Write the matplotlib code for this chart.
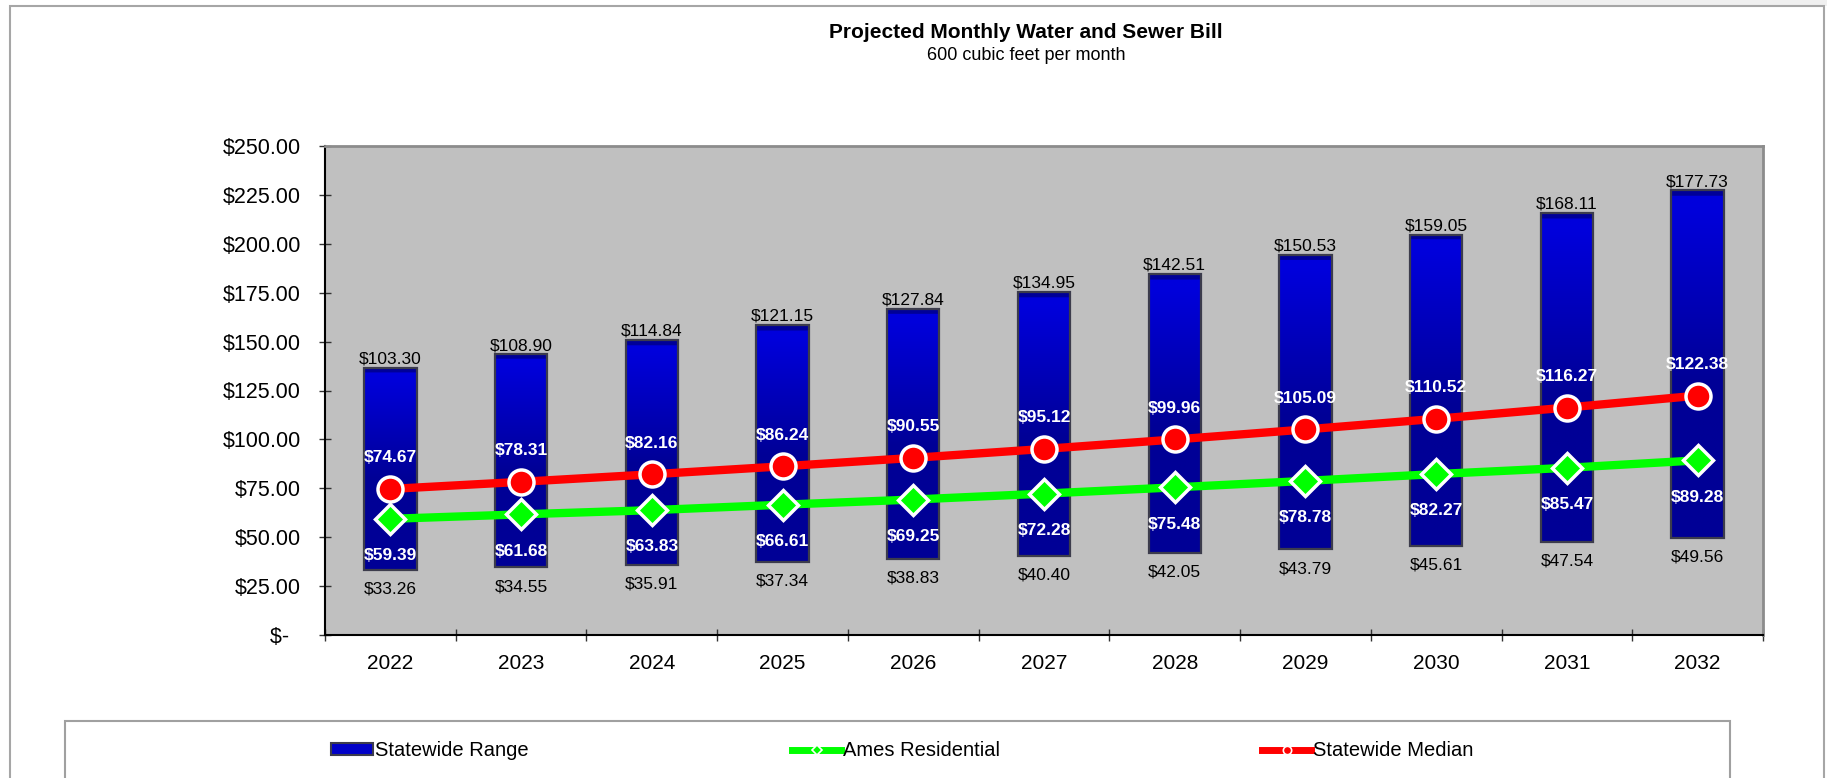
import numpy as np
import matplotlib
matplotlib.use('Agg')
import matplotlib.pyplot as plt
from matplotlib.patches import Rectangle, Patch
from matplotlib.lines import Line2D
from matplotlib.ticker import FuncFormatter

plt.rcParams['font.family'] = ['Liberation Sans', 'DejaVu Sans']

years = ['2022', '2023', '2024', '2025', '2026', '2027', '2028', '2029', '2030', '2031', '2032']
range_low = [33.26, 34.55, 35.91, 37.34, 38.83, 40.40, 42.05, 43.79, 45.61, 47.54, 49.56]
range_size = [103.30, 108.90, 114.84, 121.15, 127.84, 134.95, 142.51, 150.53, 159.05, 168.11, 177.73]
median = [74.67, 78.31, 82.16, 86.24, 90.55, 95.12, 99.96, 105.09, 110.52, 116.27, 122.38]
ames = [59.39, 61.68, 63.83, 66.61, 69.25, 72.28, 75.48, 78.78, 82.27, 85.47, 89.28]

W, H = 1827, 778
fig = plt.figure(figsize=(W / 100, H / 100), dpi=100)

# outer chart border
fig.add_artist(Rectangle((1530 / W, 1 - 6 / H), 1, 1, transform=fig.transFigure,
                         facecolor='#f0f0f0', edgecolor='none'))
fig.add_artist(Rectangle((10 / W, -0.1), (1824 - 10) / W, 1.1 - 6 / H, transform=fig.transFigure,
                         fill=False, edgecolor='#a6a6a6', linewidth=1.5))

ax = fig.add_axes([325 / W, 1 - 635 / H, (1763 - 325) / W, 489 / H])
ax.set_facecolor('#C0C0C0')

x = np.arange(len(years))
bw = 0.4
bars = ax.bar(x, range_size, bottom=range_low, width=bw, color='#0000B0',
              edgecolor='none', zorder=2)

# vertical gradient inside each bar
for b in bars:
    x0, y0, w, h = b.get_x(), b.get_y(), b.get_width(), b.get_height()
    n = 300
    yy = np.linspace(0, h, n)
    t = yy / h
    blue = np.where(t < 0.45, 0x96, 0x96 + (0xDC - 0x96) * (t - 0.45) / 0.5)
    blue = np.clip(blue, 0, 0xDC)
    blue[yy > h - 2.6] = 0x98
    img = np.zeros((n, 1, 3))
    img[:, 0, 2] = blue / 255
    im = ax.imshow(img, extent=[x0, x0 + w, y0, y0 + h], origin='lower',
                   aspect='auto', zorder=2.1, interpolation='bilinear')
    im.set_clip_path(b)

ax.bar(x, range_size, bottom=range_low, width=bw, fill=False,
       edgecolor='#3c3c4c', linewidth=1.6, zorder=2.2)

ax.plot(x, ames, color='#00FF00', lw=6, marker='D', ms=15, mfc='#00FF00',
        mec='white', mew=2.5, zorder=3, solid_capstyle='butt')
ax.plot(x, median, color='#FF0000', lw=6, marker='o', ms=18, mfc='#FF0000',
        mec='white', mew=2.5, zorder=4, solid_capstyle='butt')

for i in range(len(years)):
    top = range_low[i] + range_size[i]
    ax.annotate(f'${range_size[i]:.2f}', (x[i], top), xytext=(0, 1), textcoords='offset points',
                ha='center', va='bottom', fontsize=12.5, color='black', zorder=5)
    ax.annotate(f'${range_low[i]:.2f}', (x[i], range_low[i]), xytext=(0, -8.5), textcoords='offset points',
                ha='center', va='top', fontsize=12.5, color='black', zorder=5)
    ax.annotate(f'${median[i]:.2f}', (x[i], median[i]), xytext=(0, 22.5), textcoords='offset points',
                ha='center', va='center', fontsize=12.5, color='white', fontweight='bold', zorder=5)
    ax.annotate(f'${ames[i]:.2f}', (x[i], ames[i]), xytext=(0, -26.5), textcoords='offset points',
                ha='center', va='center', fontsize=12.5, color='white', fontweight='bold', zorder=5)

ax.set_xlim(-0.5, len(years) - 0.5)
ax.set_ylim(0, 250)
ax.set_yticks(np.arange(0, 251, 25))
ax.yaxis.set_major_formatter(FuncFormatter(lambda v, p: '$-  ' if v == 0 else f'${v:,.2f}'))
ax.tick_params(axis='y', direction='inout', length=8.6, width=1, color='#333333',
               labelsize=15.5, pad=13)

ax.set_xticks(np.arange(-0.5, len(years), 1))
ax.set_xticklabels([])
ax.set_xticks(x, minor=True)
ax.set_xticklabels(years, minor=True)
ax.tick_params(axis='x', which='major', direction='inout', length=8.6, width=1, color='#333333')
ax.tick_params(axis='x', which='minor', length=0, labelsize=15, pad=13.5)

for s in ['left', 'bottom']:
    ax.spines[s].set_color('black')
    ax.spines[s].set_linewidth(1.5)
for s in ['top', 'right']:
    ax.spines[s].set_color('#8c8c8c')
    ax.spines[s].set_linewidth(2)

fig.text(1026 / W, 1 - 33 / H, 'Projected Monthly Water and Sewer Bill', ha='center', va='center',
         fontsize=15, fontweight='bold')
fig.text(1026 / W, 1 - 56 / H, '600 cubic feet per month', ha='center', va='center', fontsize=13)

# legend box
fig.add_artist(Rectangle((65 / W, -0.1), (1730 - 65) / W, 0.1 + 1 - 721 / H, transform=fig.transFigure,
                         fill=False, edgecolor='#a0a0a0', linewidth=1.5))

handles = [
    (Patch(facecolor='#0000C8', edgecolor='#3c3c4c', linewidth=1.5, label='Statewide Range'), 331, 2.1),
    (Line2D([], [], color='#00FF00', lw=5, marker='D', ms=5, mfc='#00FF00', mec='white', mew=1.2,
            label='Ames Residential'), 792, 2.45),
    (Line2D([], [], color='#FF0000', lw=5, marker='o', ms=6, mfc='#FF0000', mec='white', mew=1.2,
            label='Statewide Median'), 1262, 2.45),
]
for h, xpos, hl in handles:
    fig.legend(handles=[h], loc='center left', bbox_to_anchor=(xpos / W, 1 - 751 / H),
               frameon=False, borderpad=0, borderaxespad=0, handlelength=hl, handleheight=0.55,
               handletextpad=0.1, fontsize=14.5)

fig.savefig('out.png', dpi=100)
